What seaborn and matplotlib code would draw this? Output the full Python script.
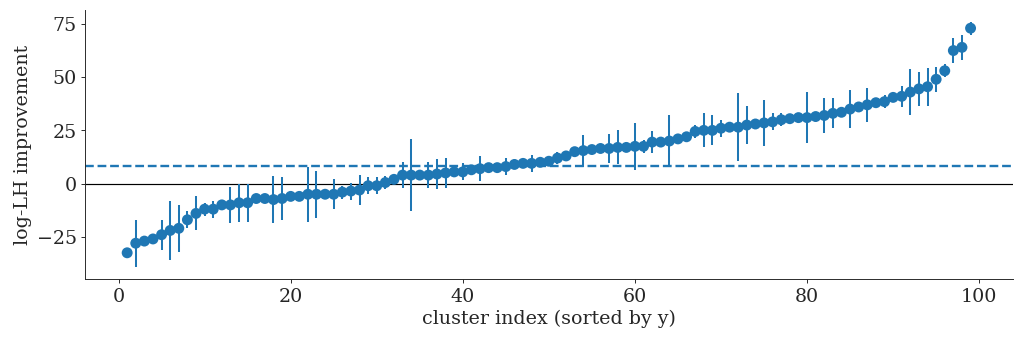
import numpy as np
import pandas as pd
import seaborn as sns
import matplotlib.pyplot as plt

# cluster index (sorted by y)
cluster_idx = list(range(1, 100))

# log-LH improvement per cluster
lh_improvement = [
    -32.5, -28, -27, -26, -24, -22, -21, -17, -14, -12,
    -12, -10, -10, -9, -9, -7, -7, -7.5, -7, -6,
    -6, -5, -5, -5, -5, -4, -3.5, -3, -1, -1,
    0.5, 2, 4, 4, 4, 4, 4.5, 5, 5.5, 5.5,
    6.5, 7, 7.5, 7.5, 8, 9, 9.5, 9.5, 10, 10.5,
    12, 13, 15, 15.5, 16, 16.5, 16.5, 17, 17, 17.5,
    17.5, 19.5, 19.5, 20, 21, 22, 24.5, 25, 25, 26,
    26.5, 26.5, 27.5, 28, 28.5, 29, 30, 30.5, 31, 31,
    31.5, 32, 33, 33.5, 35, 36, 37, 38, 38.5, 40.5,
    41, 43, 44.5, 45.5, 49, 53, 62.5, 64, 73,
]

# half-width of the error bars
lh_err = [
    0, 11, 1, 1, 7, 14, 11, 4, 8, 3,
    4, 2, 8.5, 9, 9, 2, 1, 11, 10, 1,
    2, 13, 11, 1, 7, 3, 4, 7, 4, 4,
    3, 2, 6, 17, 2, 6, 7, 7, 2, 4,
    2, 6, 2, 2, 4, 2, 2, 4, 1, 2,
    3, 1, 2, 7.5, 1, 1, 7, 8, 1, 11,
    3, 5, 2, 12, 2, 1, 3, 8, 7, 4,
    1, 16, 9, 1, 11, 4, 3, 1, 1, 12,
    1, 8, 7, 1, 9, 1, 8, 1, 3, 2,
    5, 11, 8, 9, 6, 3, 6, 6, 3,
]

# dashed reference level
threshold = 8.5

df = pd.DataFrame({"idx": cluster_idx, "y": lh_improvement, "err": lh_err})

sns.set_style("ticks")
plt.rcParams["font.family"] = ["DejaVu Serif"]
plt.rcParams["font.size"] = 16

fig, ax = plt.subplots(figsize=(12, 4), dpi=1024 / 12)
fig.subplots_adjust(left=0.083, right=0.989, top=0.971, bottom=0.182)

# error bars + points
ax.errorbar(df["idx"], df["y"], yerr=df["err"], fmt="none",
            ecolor="#1f77b4", elinewidth=1.7, zorder=2)
sns.scatterplot(data=df, x="idx", y="y", color="#1f77b4", s=85,
                edgecolor="none", ax=ax, zorder=3)

ax.axhline(0, color="black", lw=1, zorder=1)
ax.axhline(threshold, color="#1f77b4", lw=2, ls="--", zorder=1)

ax.set_xticks([0, 20, 40, 60, 80, 100])
ax.set_yticks([-25, 0, 25, 50, 75])
ax.set_xlabel("cluster index (sorted by y)")
ax.set_ylabel("log-LH improvement")
sns.despine(ax=ax)

fig.savefig("out.png", dpi=1024 / 12)
